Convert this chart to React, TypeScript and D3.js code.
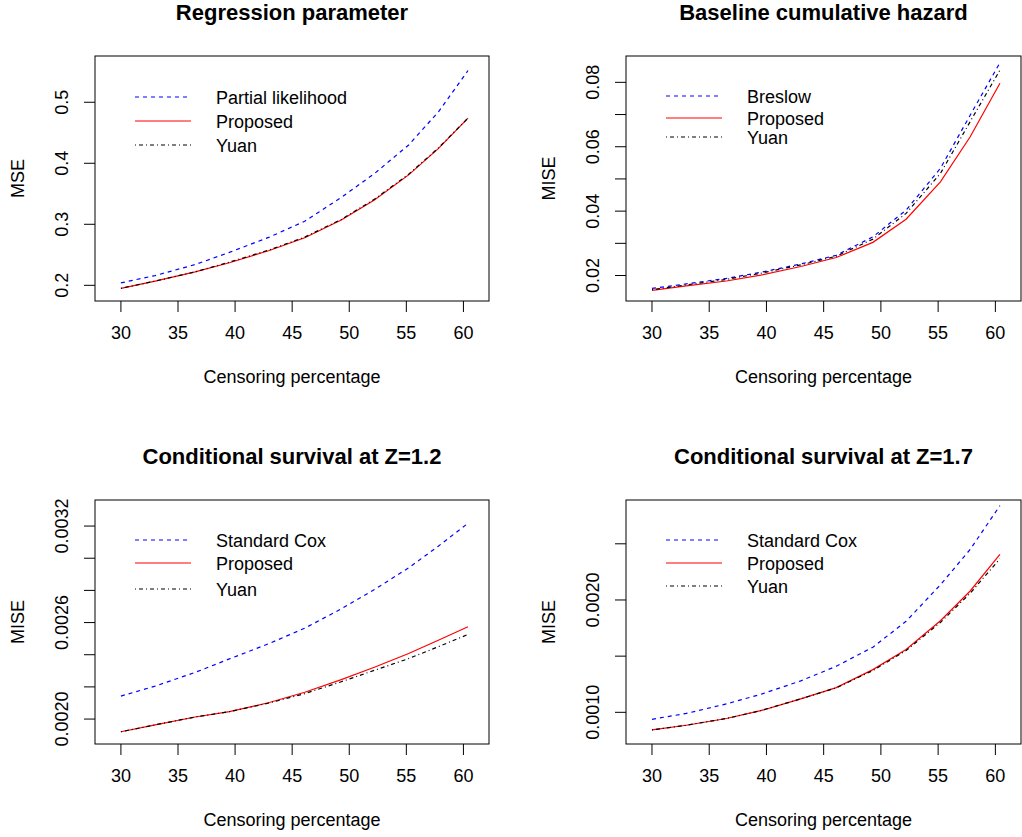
import React from "react";
import * as d3 from "d3";

// Censoring percentages (x values)
const CENSOR = [30, 33, 36.5, 39.5, 43, 46.1, 49.3, 52.2, 55.2, 57.8, 60.4];
const X_TICKS = [30, 35, 40, 45, 50, 55, 60];

// Panel 1: Regression parameter (MSE)
const P1_PARTIAL = [0.204, 0.216, 0.234, 0.254, 0.279, 0.305, 0.344, 0.383, 0.43, 0.484, 0.552];
const P1_PROPOSED = [0.195, 0.207, 0.222, 0.237, 0.257, 0.278, 0.307, 0.34, 0.381, 0.424, 0.474];
const P1_YUAN = [0.195, 0.207, 0.222, 0.238, 0.258, 0.279, 0.308, 0.341, 0.382, 0.425, 0.474];
const P1_TICKS = [0.2, 0.3, 0.4, 0.5];
const P1_LABELS = ["0.2", "0.3", "0.4", "0.5"];

// Panel 2: Baseline cumulative hazard (MISE)
const P2_BRESLOW = [0.016, 0.0174, 0.0191, 0.021, 0.0236, 0.0263, 0.032, 0.0403, 0.0533, 0.0698, 0.0861];
const P2_PROPOSED = [0.0154, 0.0168, 0.0183, 0.0201, 0.0228, 0.0256, 0.0303, 0.0375, 0.0491, 0.0631, 0.0797];
const P2_YUAN = [0.0156, 0.0171, 0.0188, 0.0207, 0.0233, 0.026, 0.0313, 0.0393, 0.0517, 0.0678, 0.0838];
const P2_TICKS = [0.02, 0.03, 0.04, 0.05, 0.06, 0.07, 0.08];
const P2_LABELS = ["0.02", "", "0.04", "", "0.06", "", "0.08"];

// Panel 3: Conditional survival at Z=1.2 (MISE)
const P3_COX = [0.002143, 0.002205, 0.00229, 0.002374, 0.00247, 0.002565, 0.002685, 0.002805, 0.00294, 0.003075, 0.003217];
const P3_PROPOSED = [0.001921, 0.001964, 0.002013, 0.002046, 0.002103, 0.002167, 0.002245, 0.002322, 0.002408, 0.00249, 0.002574];
const P3_YUAN = [0.001921, 0.001964, 0.002013, 0.002046, 0.0021, 0.002158, 0.002232, 0.002303, 0.002376, 0.00245, 0.002526];
const P3_TICKS = [0.002, 0.0022, 0.0024, 0.0026, 0.0028, 0.003, 0.0032];
const P3_LABELS = ["0.0020", "", "", "0.0026", "", "", "0.0032"];

// Panel 4: Conditional survival at Z=1.7 (MISE)
const P4_COX = [0.000938, 0.00099, 0.001075, 0.00116, 0.00128, 0.00141, 0.00158, 0.00181, 0.002135, 0.00245, 0.00284];
const P4_PROPOSED = [0.000843, 0.000885, 0.000945, 0.001015, 0.00112, 0.00122, 0.00138, 0.00156, 0.001815, 0.00208, 0.002405];
const P4_YUAN = [0.000843, 0.000885, 0.000945, 0.001015, 0.00112, 0.001218, 0.001372, 0.00155, 0.0018, 0.00206, 0.002367];
const P4_TICKS = [0.001, 0.0015, 0.002, 0.0025];
const P4_LABELS = ["0.0010", "", "0.0020", ""];

const FONT = "'Liberation Sans', Arial, Helvetica, sans-serif";

type Series = { name: string; values: number[]; color: string; dash: string };

type PanelProps = {
  left: number;
  top: number;
  width: number;
  height: number;
  title: string;
  ylab: string;
  yDomain: [number, number];
  yTicks: number[];
  yLabels: string[];
  series: Series[];
  legendRows: number[];
};

function Panel(p: PanelProps) {
  const x = d3.scaleLinear().domain([27.73, 62.24]).range([p.left, p.left + p.width]);
  const y = d3.scaleLinear().domain(p.yDomain).range([p.top + p.height, p.top]);
  const line = d3
    .line<number>()
    .x((_, i) => x(CENSOR[i]))
    .y((d) => y(d));
  const bottom = p.top + p.height;
  const cx = p.left + p.width / 2;
  const legLineX0 = p.left + 40;
  const legLineX1 = p.left + 96;
  const legTextX = p.left + 121;
  return (
    <g>
      <text x={cx} y={p.top - 36} textAnchor="middle" fontWeight="bold" fontSize={22} fontFamily={FONT}>
        {p.title}
      </text>
      <rect x={p.left} y={p.top} width={p.width} height={p.height} fill="none" stroke="#000" strokeWidth={1} />
      {X_TICKS.map((t) => (
        <g key={t}>
          <line x1={x(t)} x2={x(t)} y1={bottom} y2={bottom + 11} stroke="#000" />
          <text x={x(t)} y={bottom + 38} textAnchor="middle" fontSize={18} fontFamily={FONT}>
            {t}
          </text>
        </g>
      ))}
      <text x={cx} y={bottom + 82} textAnchor="middle" fontSize={18} fontFamily={FONT}>
        Censoring percentage
      </text>
      {p.yTicks.map((t, i) => (
        <g key={i}>
          <line x1={p.left - 11} x2={p.left} y1={y(t)} y2={y(t)} stroke="#000" />
          {p.yLabels[i] ? (
            <text
              transform={`translate(${p.left - 27},${y(t)}) rotate(-90)`}
              textAnchor="middle"
              fontSize={18}
              fontFamily={FONT}
            >
              {p.yLabels[i]}
            </text>
          ) : null}
        </g>
      ))}
      <text
        transform={`translate(${p.left - 71},${p.top + p.height / 2}) rotate(-90)`}
        textAnchor="middle"
        fontSize={18}
        fontFamily={FONT}
      >
        {p.ylab}
      </text>
      {p.series.map((s) => (
        <path key={s.name + "l"} d={line(s.values) || ""} fill="none" stroke={s.color} strokeWidth={1.2} strokeDasharray={s.dash} />
      ))}
      {p.series.map((s, i) => (
        <g key={s.name + "g"}>
          <line
            x1={legLineX0}
            x2={legLineX1}
            y1={p.legendRows[i]}
            y2={p.legendRows[i]}
            stroke={s.color}
            strokeWidth={1.2}
            strokeDasharray={s.dash}
          />
          <text x={legTextX} y={p.legendRows[i] + 6.5} fontSize={18} fontFamily={FONT}>
            {s.name}
          </text>
        </g>
      ))}
    </g>
  );
}

const DASH = "4,4";
const DOTDASH = "1,3,4,3";

export default function App() {
  return (
    <svg width={1022} height={837} style={{ position: "absolute", left: 0, top: 0, background: "#fff" }}>
      <rect width={1022} height={837} fill="#fff" />
      <Panel
        left={95}
        top={56}
        width={394}
        height={245}
        title="Regression parameter"
        ylab="MSE"
        yDomain={[0.1743, 0.5758]}
        yTicks={P1_TICKS}
        yLabels={P1_LABELS}
        series={[
          { name: "Partial likelihood", values: P1_PARTIAL, color: "#0000ff", dash: DASH },
          { name: "Proposed", values: P1_PROPOSED, color: "#ff0000", dash: "" },
          { name: "Yuan", values: P1_YUAN, color: "#000000", dash: DOTDASH },
        ]}
        legendRows={[97, 121, 145]}
      />
      <Panel
        left={626}
        top={56}
        width={395}
        height={245}
        title="Baseline cumulative hazard"
        ylab="MISE"
        yDomain={[0.01209, 0.08818]}
        yTicks={P2_TICKS}
        yLabels={P2_LABELS}
        series={[
          { name: "Breslow", values: P2_BRESLOW, color: "#0000ff", dash: DASH },
          { name: "Proposed", values: P2_PROPOSED, color: "#ff0000", dash: "" },
          { name: "Yuan", values: P2_YUAN, color: "#000000", dash: DOTDASH },
        ]}
        legendRows={[96, 118, 137]}
      />
      <Panel
        left={95}
        top={500}
        width={394}
        height={244}
        title="Conditional survival at Z=1.2"
        ylab="MISE"
        yDomain={[0.001845, 0.003362]}
        yTicks={P3_TICKS}
        yLabels={P3_LABELS}
        series={[
          { name: "Standard Cox", values: P3_COX, color: "#0000ff", dash: DASH },
          { name: "Proposed", values: P3_PROPOSED, color: "#ff0000", dash: "" },
          { name: "Yuan", values: P3_YUAN, color: "#000000", dash: DOTDASH },
        ]}
        legendRows={[540, 563, 589]}
      />
      <Panel
        left={626}
        top={500}
        width={395}
        height={244}
        title="Conditional survival at Z=1.7"
        ylab="MISE"
        yDomain={[0.000718, 0.00289]}
        yTicks={P4_TICKS}
        yLabels={P4_LABELS}
        series={[
          { name: "Standard Cox", values: P4_COX, color: "#0000ff", dash: DASH },
          { name: "Proposed", values: P4_PROPOSED, color: "#ff0000", dash: "" },
          { name: "Yuan", values: P4_YUAN, color: "#000000", dash: DOTDASH },
        ]}
        legendRows={[540, 563, 586]}
      />
    </svg>
  );
}
